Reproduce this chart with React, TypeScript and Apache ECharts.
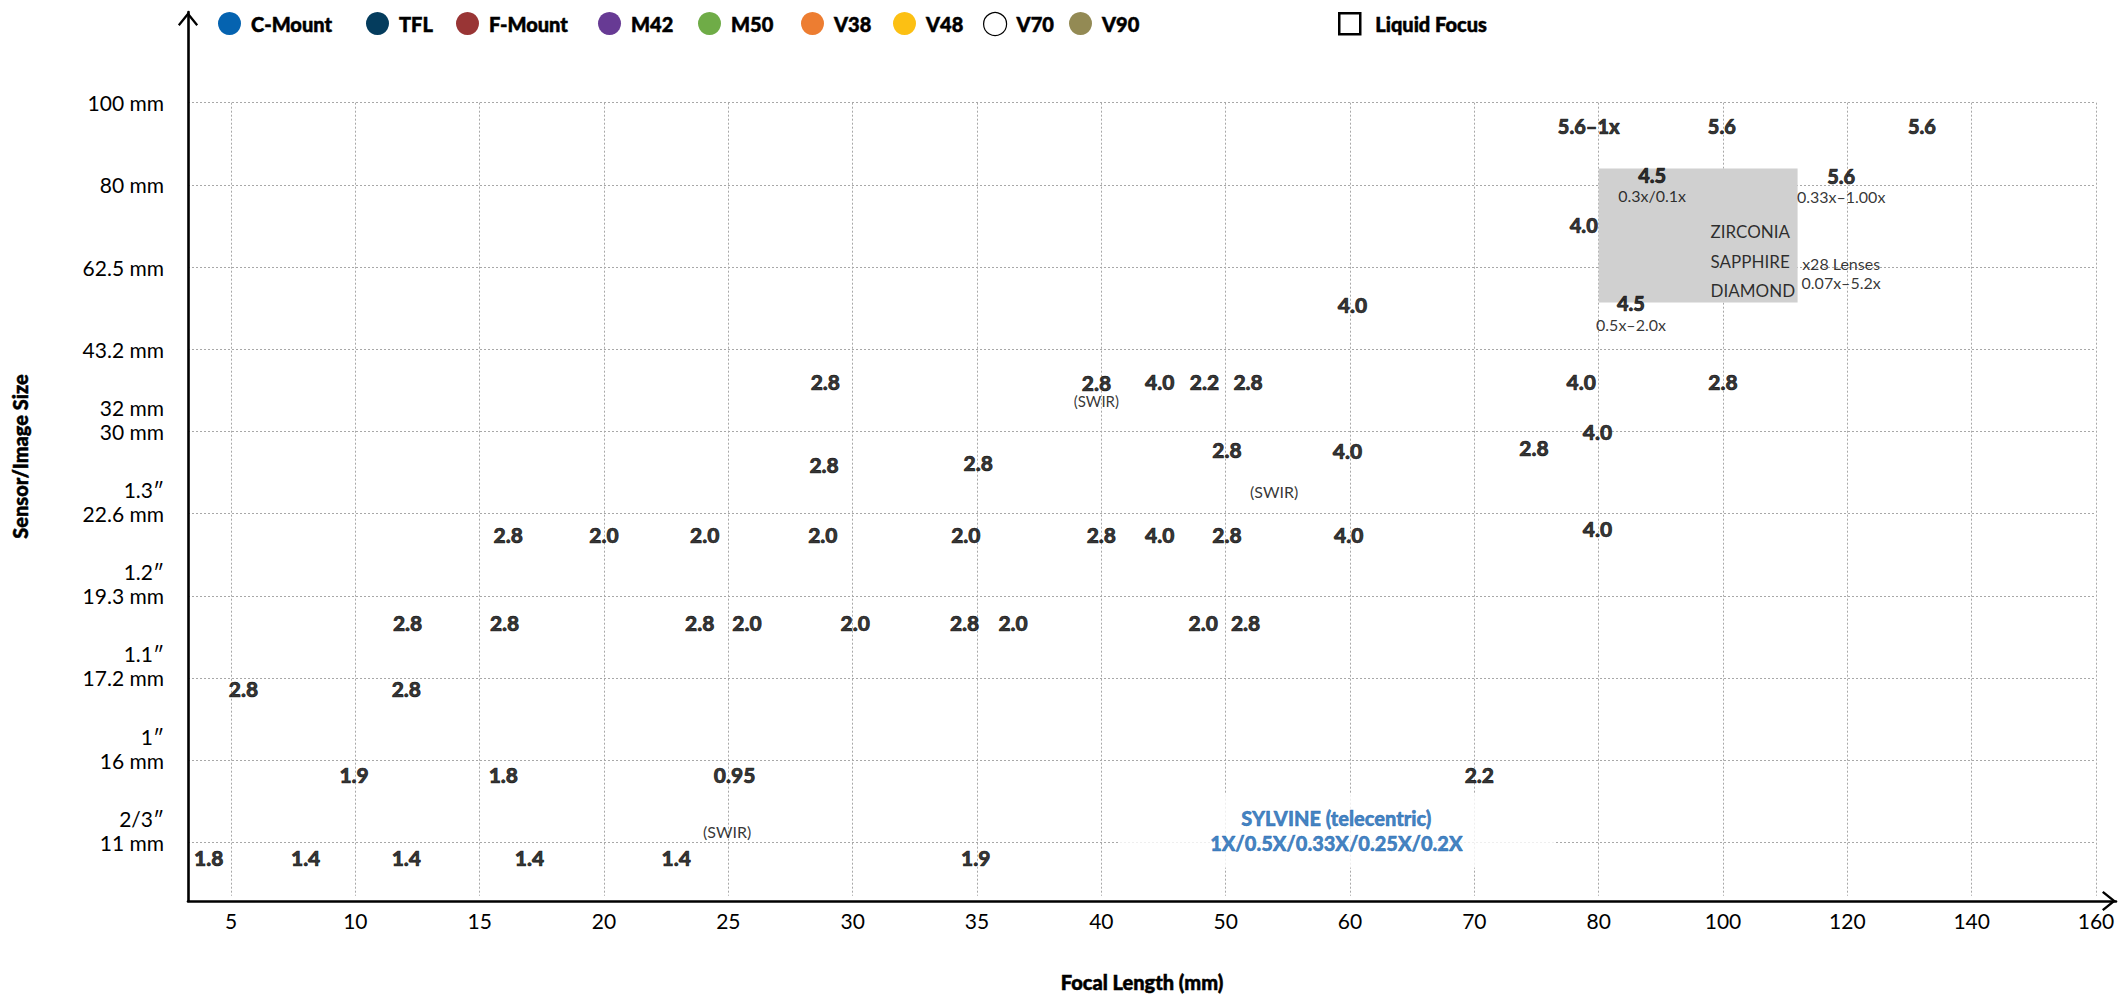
import React, { useEffect, useRef } from 'react';
import * as echarts from 'echarts';

const FONT = 'Lato, "Open Sans", sans-serif';

// Axis ticks (ordinal slots 0..n-1)
const focalTicks = ['5', '10', '15', '20', '25', '30', '35', '40', '50', '60', '70', '80', '100', '120', '140', '160'];
const sensorInchTicks = ['2/3″', '1″', '1.1″', '1.2″', '1.3″', '32 mm', ' ', ' ', ' ', ' '];
const sensorMmTicks = ['11 mm', '16 mm', '17.2 mm', '19.3 mm', '22.6 mm', '30 mm', '43.2 mm', '62.5 mm', '80 mm', '100 mm'];

// Legend
const mountNames = ['C-Mount', 'TFL', 'F-Mount', 'M42', 'M50', 'V38', 'V48', 'V70', 'V90'];
const mountColors = ['#0563b0', '#043c5d', '#993535', '#673a94', '#6fac47', '#ed7d31', '#fcc013', '#ffffff', '#938a54'];
const liquidFocusName = 'Liquid Focus';

// Lenses: [focal slot, sensor slot, f-number]
const lensesBottomRows = [
  [-0.18, -0.19, '1.8'], [0.6, -0.19, '1.4'], [1.41, -0.19, '1.4'], [2.4, -0.19, '1.4'], [3.58, -0.19, '1.4'], [5.99, -0.19, '1.9'],
  [0.99, 0.82, '1.9'], [2.19, 0.82, '1.8'], [4.05, 0.82, '0.95'], [10.04, 0.82, '2.2'],
  [0.1, 1.87, '2.8'], [1.41, 1.87, '2.8'],
];
const lensesMiddleRows = [
  [1.42, 2.68, '2.8'], [2.2, 2.68, '2.8'], [3.77, 2.68, '2.8'], [4.15, 2.68, '2.0'], [5.02, 2.68, '2.0'],
  [5.9, 2.68, '2.8'], [6.29, 2.68, '2.0'], [7.82, 2.68, '2.0'], [8.16, 2.68, '2.8'],
  [2.23, 3.745, '2.8'], [3.0, 3.745, '2.0'], [3.81, 3.745, '2.0'], [4.76, 3.745, '2.0'], [5.91, 3.745, '2.0'],
  [7.0, 3.745, '2.8'], [7.47, 3.745, '4.0'], [8.01, 3.745, '2.8'], [8.99, 3.745, '4.0'], [10.99, 3.82, '4.0'],
];
const lensesUpperRows = [
  [4.77, 4.6, '2.8'], [6.01, 4.62, '2.8'], [8.01, 4.78, '2.8'], [8.98, 4.77, '4.0'], [10.48, 4.81, '2.8'], [10.99, 5.0, '4.0'],
  [4.78, 5.61, '2.8'], [7.47, 5.61, '4.0'], [7.83, 5.61, '2.2'], [8.18, 5.61, '2.8'],
  [10.86, 5.61, '4.0'], [12.0, 5.61, '2.8'],
  [9.02, 6.55, '4.0'],
];
const lensesLargeFormat = [
  [10.88, 7.51, '4.0'], [10.92, 8.72, '5.6–1x'], [11.99, 8.72, '5.6'], [13.6, 8.72, '5.6'],
];
// [focal slot, sensor slot, f-number, note]
const lensesWithMagnification = [
  [11.43, 8.0, '4.5', '0.3x/0.1x'], [12.95, 7.99, '5.6', '0.33x–1.00x'], [11.26, 6.44, '4.5', '0.5x–2.0x'],
];
const lensesSwirLabelled = [[6.96, 5.51, '2.8', '(SWIR)']];
const swirNotes = [[8.39, 4.27, '(SWIR)'], [3.99, 0.13, '(SWIR)']];
const lineNotes = [[12.95, 6.93, 'x28 Lenses\n0.07x–5.2x']];
const materialNotes = [[11.9, 7.07, 'ZIRCONIA\nSAPPHIRE\nDIAMOND']];
const materialBox = [[11, 8.2], [12.6, 6.57]];
const sylvineNote = [[8.89, 0.14, 'SYLVINE (telecentric)', '1X/0.5X/0.33X/0.25X/0.2X']];

// layout constants
const mountLegendLeft = [218, 366, 456, 598, 698, 801, 893, 983, 1069];
const ARROW = 'path://M0,13 L10.5,0 L21,13 L19.2,14.6 L10.5,3.9 L1.8,14.6 Z';
const HEAVY = 900;
const heavyInk = { textBorderColor: '#000', textBorderWidth: 0.7 };

const toPoints = (rows: any[]) => rows.map((r) => ({ value: [r[0], r[1]], f: r[2], sub: r[3] }));

const pointSeries = (name: string, data: any[], label: any, z = 5) => ({
  type: 'scatter',
  name,
  xAxisIndex: 0,
  yAxisIndex: 0,
  data,
  symbolSize: 1,
  itemStyle: { color: 'rgba(0,0,0,0)' },
  silent: true,
  z,
  emphasis: { disabled: true },
  label: { show: true, position: 'inside', fontFamily: FONT, color: '#000', ...label },
});

export default function App() {
  const ref = useRef<HTMLDivElement>(null);

  useEffect(() => {
    if (!ref.current) return;
    const chart = echarts.init(ref.current, null, { renderer: 'svg' });
    const focalSlots = focalTicks.map((_, i) => i);
    const sensorSlots = sensorMmTicks.map((_, i) => i);
    const legendText = {
      fontFamily: FONT, fontWeight: HEAVY, fontSize: 20, color: '#000', padding: [0, 0, 0, 5],
      textBorderColor: '#000', textBorderWidth: 0.5,
    };

    const option: any = {
      animation: false,
      backgroundColor: '#fff',
      textStyle: { fontFamily: FONT },
      grid: [
        { left: 188, right: 23, top: 102.7, bottom: 96 },
        { left: 188, right: 3, top: 12, bottom: 96 },
      ],
      legend: [
        ...mountNames.map((n, i) => ({
          data: i === 7 ? [{ name: n, itemStyle: { color: '#fff', borderColor: '#000', borderWidth: 1.2 } }] : [n],
          left: mountLegendLeft[i],
          top: 12,
          padding: 0,
          itemWidth: 23,
          itemHeight: 23,
          icon: 'circle',
          selectedMode: false,
          textStyle: legendText,
        })),
        {
          data: [{ name: liquidFocusName, icon: 'rect', itemStyle: { color: '#fff', borderColor: '#000', borderWidth: 2.5 } }],
          left: 1338,
          top: 12,
          padding: 0,
          itemWidth: 21,
          itemHeight: 21,
          selectedMode: false,
          textStyle: { ...legendText, padding: [0, 0, 0, 10] },
        },
      ],
      xAxis: [
        {
          type: 'value',
          gridIndex: 0,
          min: -0.346,
          max: 15,
          axisLine: { show: false },
          axisTick: { show: false, customValues: focalSlots },
          axisLabel: {
            customValues: focalSlots,
            margin: 14,
            fontFamily: FONT,
            fontSize: 21,
            color: '#000',
            formatter: (v: number) => focalTicks[Math.round(v)] ?? '',
          },
          splitLine: { show: true, lineStyle: { color: '#a8a8a8', width: 1, type: [2, 2] } },
          name: 'Focal Length (mm)',
          nameLocation: 'middle',
          nameGap: 76,
          nameTextStyle: { fontFamily: FONT, fontWeight: HEAVY, fontSize: 20, color: '#000', textBorderColor: '#000', textBorderWidth: 0.5 },
        },
        {
          type: 'value',
          gridIndex: 1,
          min: 0,
          max: 1,
          axisLine: {
            show: true,
            lineStyle: { color: '#000', width: 2.6 },
            symbol: ['none', ARROW],
            symbolSize: [21, 14],
            symbolOffset: [0, -7],
          },
          axisTick: { show: false },
          axisLabel: { show: false },
          splitLine: { show: false },
        },
      ],
      yAxis: [
        {
          type: 'value',
          gridIndex: 0,
          min: -0.65,
          max: 9,
          axisLine: { show: false },
          axisTick: { show: false, customValues: sensorSlots },
          axisLabel: {
            customValues: sensorSlots,
            margin: 24,
            padding: [0, 0, 24, 0],
            formatter: (v: number) => {
              const i = Math.round(v);
              return `{t|${sensorInchTicks[i]}}\n{m|${sensorMmTicks[i]}}`;
            },
            rich: {
              t: { fontFamily: FONT, fontSize: 21, lineHeight: 24, color: '#000', align: 'right' },
              m: { fontFamily: FONT, fontSize: 21, lineHeight: 24, color: '#000', align: 'right' },
            },
          },
          splitLine: { show: true, lineStyle: { color: '#a8a8a8', width: 1, type: [2, 2] } },
        },
        {
          type: 'value',
          gridIndex: 1,
          min: 0,
          max: 1,
          axisLine: {
            show: true,
            lineStyle: { color: '#000', width: 2.6 },
            symbol: ['none', ARROW],
            symbolSize: [21, 14],
            symbolOffset: [0, -7],
          },
          axisTick: { show: false },
          axisLabel: { show: false },
          splitLine: { show: false },
          name: 'Sensor/Image Size',
          nameLocation: 'middle',
          nameGap: 158,
          nameTextStyle: { fontFamily: FONT, fontWeight: HEAVY, fontSize: 20, color: '#000', textBorderColor: '#000', textBorderWidth: 0.5 },
        },
      ],
      series: [
        {
          type: 'scatter',
          name: 'material box',
          xAxisIndex: 0,
          yAxisIndex: 0,
          data: [],
          z: 1,
          silent: true,
          markArea: {
            silent: true,
            itemStyle: { color: '#d0d0d0', opacity: 1 },
            label: { show: false },
            emphasis: { disabled: true },
            data: [[
              { xAxis: materialBox[0][0], yAxis: materialBox[0][1] },
              { xAxis: materialBox[1][0], yAxis: materialBox[1][1] },
            ]],
          },
        },
        ...mountNames.map((n, i) => ({
          type: 'scatter',
          name: n,
          xAxisIndex: 0,
          yAxisIndex: 0,
          data: [],
          itemStyle: i === 7
            ? { color: '#fff', borderColor: '#000', borderWidth: 1.2, opacity: 1 }
            : { color: mountColors[i], opacity: 1 },
        })),
        {
          type: 'scatter',
          name: liquidFocusName,
          xAxisIndex: 0,
          yAxisIndex: 0,
          data: [],
          symbol: 'rect',
          itemStyle: { color: '#fff', borderColor: '#000', borderWidth: 2.5, opacity: 1 },
        },
        pointSeries('lenses', toPoints([...lensesBottomRows, ...lensesMiddleRows, ...lensesUpperRows]), {
          fontSize: 21,
          fontWeight: HEAVY,
          ...heavyInk,
          formatter: (p: any) => p.data.f,
        }),
        pointSeries('large format', toPoints(lensesLargeFormat), {
          fontSize: 20,
          fontWeight: HEAVY,
          ...heavyInk,
          formatter: (p: any) => p.data.f,
        }),
        pointSeries('magnification', toPoints(lensesWithMagnification), {
          formatter: (p: any) => `{b|${p.data.f}}\n{s|${p.data.sub}}`,
          rich: {
            b: { fontFamily: FONT, fontSize: 20, fontWeight: HEAVY, lineHeight: 22, color: '#000', ...heavyInk },
            s: { fontFamily: FONT, fontSize: 16, lineHeight: 20, color: '#000' },
          },
        }),
        pointSeries('swir lens', toPoints(lensesSwirLabelled), {
          formatter: (p: any) => `{b|${p.data.f}}\n{s|${p.data.sub}}`,
          rich: {
            b: { fontFamily: FONT, fontSize: 21, fontWeight: HEAVY, lineHeight: 23, color: '#000', ...heavyInk },
            s: { fontFamily: FONT, fontSize: 15, lineHeight: 15, color: '#000' },
          },
        }),
        pointSeries('swir', toPoints(swirNotes), { fontSize: 16, formatter: (p: any) => p.data.f }),
        pointSeries('lens count', toPoints(lineNotes), { fontSize: 16, lineHeight: 19.5, formatter: (p: any) => p.data.f }),
        pointSeries('materials', toPoints(materialNotes), {
          fontSize: 17,
          lineHeight: 29.5,
          align: 'left',
          formatter: (p: any) => p.data.f,
        }, 6),
        pointSeries('sylvine', toPoints(sylvineNote), {
          fontSize: 20,
          fontWeight: HEAVY,
          lineHeight: 25,
          color: '#1262b0',
          textBorderColor: '#1262b0',
          textBorderWidth: 0.5,
          backgroundColor: '#fff',
          padding: [12, 92],
          formatter: (p: any) => `${p.data.f}\n${p.data.sub}`,
        }),
      ],
    };

    chart.setOption(option);
    return () => chart.dispose();
  }, []);

  return <div ref={ref} style={{ position: 'fixed', left: 0, top: 0, width: 2119, height: 997 }} />;
}
